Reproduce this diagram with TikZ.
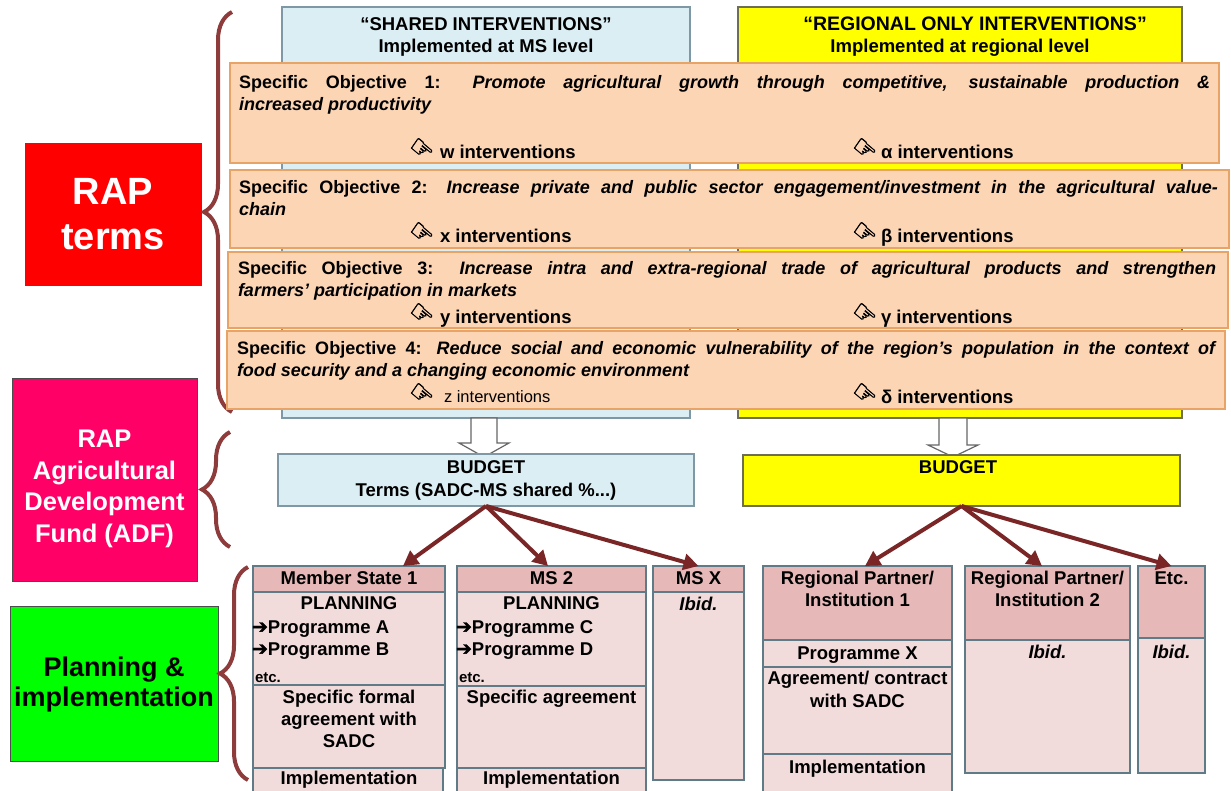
\documentclass[tikz,border=0pt]{standalone}
\usepackage{fontspec}
\setmainfont{Liberation Sans}
\newfontfamily\dejavu[FakeBold=2]{DejaVu Sans}
\usetikzlibrary{arrows.meta,decorations.pathreplacing,fit,calc}
\definecolor{lightblue}{HTML}{DBEEF4}
\definecolor{bluebord}{HTML}{7F98A6}
\definecolor{yel}{HTML}{FFFF00}
\definecolor{yelbord}{HTML}{6E6E55}
\definecolor{peach}{HTML}{FCD5B5}
\definecolor{peachbord}{HTML}{E8A467}
\definecolor{pinkhdr}{HTML}{E6B9B8}
\definecolor{pinkbody}{HTML}{F2DCDB}
\definecolor{pinkbord}{HTML}{5E7B87}
\definecolor{redbox}{HTML}{FF0000}
\definecolor{adfbox}{HTML}{FF0066}
\definecolor{greenbox}{HTML}{00FF00}
\definecolor{bracec}{HTML}{8E3B3B}
\definecolor{arrc}{HTML}{7A2626}
\newcommand\fsz[2]{\fontsize{#1}{#2}\selectfont}
\newcommand\handicon{\rotatebox[origin=c]{-40}{\dejavu\fsz{27}{27}☞}}
\newcommand\rarr{{\dejavu\fsz{19}{19}➔}}
\begin{document}
\begin{tikzpicture}[x=1pt,y=-1pt,
  every node/.style={inner sep=0pt, outer sep=0pt},
  colblue/.style={draw=bluebord, fill=lightblue, line width=1.2pt},
  colyel/.style={draw=yelbord, fill=yel, line width=1.2pt},
  sobox/.style={draw=peachbord, fill=peach, line width=1.2pt},
  sotext/.style={anchor=north west, align=justify, font=\bfseries\fsz{18}{22}},
  intext/.style={anchor=base west, font=\bfseries\fsz{18.5}{22}},
  iconnode/.style={font=\bfseries},
  hdrbox/.style={draw=pinkbord, fill=pinkhdr, line width=1.2pt},
  bodybox/.style={draw=pinkbord, fill=pinkbody, line width=1.2pt},
  tx/.style={anchor=base, font=\bfseries\fsz{18.5}{22}},
  txl/.style={anchor=base west, font=\bfseries\fsz{18.5}{22}},
  brc/.style={draw=bracec, line width=4pt, decorate, decoration={brace, amplitude=28pt}},
  barrow/.style={draw=gray!80!black, fill=white, line width=1.2pt},
  budarr/.style={draw=arrc, line width=4pt, -{Triangle[length=15pt,width=16pt]}}
]
\useasboundingbox (0,0) rectangle (1231,790);
\clip (0,0) rectangle (1231,790);

% left label boxes
\node[draw=black!70, fill=redbox, line width=1pt, fit={(25,143)(201,285)}] (rap) {};
\node[align=center, text=white, font=\bfseries\fsz{38}{45}] at (113,214) {RAP\\terms};
\node[draw=black!70, fill=adfbox, line width=1pt, fit={(12,378)(197,581)}] (adf) {};
\node[align=center, text=white, font=\bfseries\fsz{25.5}{31.7}] at (104.5,489) {RAP\\Agricultural\\Development\\Fund (ADF)};
\node[draw=black!70, fill=greenbox, line width=1pt, fit={(10,606)(218,761)}] (plan) {};
\node[align=center, font=\bfseries\fsz{27}{30}] at (114,685) {Planning \&\\implementation};

% braces
\draw[brc] (232,412) -- (232,12);
\draw[brc] (230,547) -- (230,432);
\draw[brc] (248,780) -- (248,567);

% columns
\node[colblue, fit={(282,7)(690,418)}] (shared) {};
\node[colyel, fit={(738,7)(1182,418)}] (regional) {};
\node[tx] at (486,30) {“SHARED INTERVENTIONS”};
\node[tx] at (486,52) {Implemented at MS level};
\node[tx, font=\bfseries\fsz{19.5}{22}] at (975,30) {“REGIONAL ONLY INTERVENTIONS”};
\node[tx] at (960,52) {Implemented at regional level};

% specific objectives
\node[sobox, fit={(230,63)(1219,163)}] (so1) {};
\node[sotext, text width=971pt] at (239,75) {Specific Objective 1: {\itshape Promote agricultural growth through competitive, sustainable production \&\linebreak increased productivity}};
\node[iconnode] at (421,150) {\handicon};
\node[intext] at (440,158) {w interventions};
\node[iconnode] at (864,150) {\handicon};
\node[intext] at (881,158) {α interventions};

\node[sobox, fit={(230,170)(1229,248)}] (so2) {};
\node[sotext, text width=979pt] at (239,180) {Specific Objective 2: {\itshape Increase private and public sector engagement/investment in the agricultural value-\linebreak chain}};
\node[iconnode] at (421,234) {\handicon};
\node[intext] at (440,242) {x interventions};
\node[iconnode] at (864,234) {\handicon};
\node[intext] at (881,242) {β interventions};

\node[sobox, fit={(228,252)(1228,328)}] (so3) {};
\node[sotext, text width=978pt] at (238,261) {Specific Objective 3: {\itshape Increase intra and extra-regional trade of agricultural products and strengthen\linebreak farmers’ participation in markets}};
\node[iconnode] at (421,315) {\handicon};
\node[intext] at (440,323) {y interventions};
\node[iconnode] at (864,315) {\handicon};
\node[intext] at (881,323) {γ interventions};

\node[sobox, fit={(227,331)(1225,409)}] (so4) {};
\node[sotext, text width=978pt] at (237,341) {Specific Objective 4: {\itshape Reduce social and economic vulnerability of the region’s population in the context of\linebreak food security and a changing economic environment}};
\node[iconnode] at (421,395) {\handicon};
\node[anchor=base west, font=\fsz{16.5}{20}] at (444,402) {z interventions};
\node[iconnode] at (864,395) {\handicon};
\node[intext] at (881,403) {δ interventions};

% block arrows
\draw[barrow] (471,418) -- (471,443) -- (459,443) -- (484,457) -- (509,443) -- (497,443) -- (497,418) -- cycle;
\draw[barrow] (939,418) -- (939,445) -- (928,445) -- (953,457) -- (978,445) -- (967,445) -- (967,418) -- cycle;

% budgets
\node[colblue, fit={(278,454)(694,506)}] (budl) {};
\node[tx] at (486,473) {BUDGET};
\node[tx] at (486,496) {Terms (SADC-MS shared \%...)};
\node[colyel, fit={(743,455)(1180,506)}] (budr) {};
\node[tx] at (958,473) {BUDGET};

% member states
\node[bodybox, fit={(253,592)(445,685)}] (ms1p) {};
\node[bodybox, fit={(253,685)(445,768)}] (ms1a) {};
\node[bodybox, fit={(253,768)(443,800)}] (ms1i) {};
\node[hdrbox, fit={(253,566)(445,592)}] (ms1h) {};
\node[tx] at (349,584) {Member State 1};
\node[tx] at (349,609) {PLANNING};
\node[txl] at (252,633) {\rarr Programme A};
\node[txl] at (252,655) {\rarr Programme B};
\node[anchor=base west, font=\bfseries\fsz{15}{16}] at (255,682) {etc.};
\node[tx] at (349,703) {Specific formal};
\node[tx] at (349,725) {agreement with};
\node[tx] at (349,747) {SADC};
\node[tx] at (349,784) {Implementation};

\node[bodybox, fit={(457,592)(646,686)}] (ms2p) {};
\node[bodybox, fit={(457,686)(646,768)}] (ms2a) {};
\node[bodybox, fit={(457,768)(646,800)}] (ms2i) {};
\node[hdrbox, fit={(457,566)(646,592)}] (ms2h) {};
\node[tx] at (551.5,584) {MS 2};
\node[tx] at (551.5,609) {PLANNING};
\node[txl] at (456,633) {\rarr Programme C};
\node[txl] at (456,655) {\rarr Programme D};
\node[anchor=base west, font=\bfseries\fsz{15}{16}] at (459,682) {etc.};
\node[tx] at (551.5,703) {Specific agreement};
\node[tx] at (551.5,784) {Implementation};

\node[bodybox, fit={(653,592)(744,780)}] (msxb) {};
\node[hdrbox, fit={(653,566)(744,592)}] (msxh) {};
\node[tx] at (698.5,584) {MS X};
\node[tx, font=\bfseries\itshape\fsz{18.5}{22}] at (698.5,610) {Ibid.};

% regional partners
\node[bodybox, fit={(763,640)(952,667)}] (rp1p) {};
\node[bodybox, fit={(763,667)(952,754)}] (rp1a) {};
\node[bodybox, fit={(763,754)(952,800)}] (rp1i) {};
\node[hdrbox, fit={(763,566)(952,640)}] (rp1h) {};
\node[tx] at (857.5,584) {Regional Partner/};
\node[tx] at (857.5,606) {Institution 1};
\node[tx] at (857.5,659) {Programme X};
\node[tx] at (857.5,684) {Agreement/ contract};
\node[tx] at (857.5,707) {with SADC};
\node[tx] at (857.5,773) {Implementation};

\node[bodybox, fit={(965,640)(1130,773)}] (rp2b) {};
\node[hdrbox, fit={(965,566)(1130,640)}] (rp2h) {};
\node[tx] at (1047.5,584) {Regional Partner/};
\node[tx] at (1047.5,606) {Institution 2};
\node[tx, font=\bfseries\itshape\fsz{18.5}{22}] at (1047.5,658) {Ibid.};

\node[bodybox, fit={(1138,638)(1205,773)}] (etcb) {};
\node[hdrbox, fit={(1138,566)(1205,638)}] (etch) {};
\node[tx] at (1171.5,584) {Etc.};
\node[tx, font=\bfseries\itshape\fsz{18.5}{22}] at (1171.5,658) {Ibid.};

% budget arrows
\draw[budarr] (budl.south) -- ([xshift=150pt]ms1h.north west);
\draw[budarr] (budl.south) -- ([xshift=91pt]ms2h.north west);
\draw[budarr] (budl.south) -- (msxh.north);
\draw[budarr] (budr.south) -- ([xshift=102pt]rp1h.north west);
\draw[budarr] (budr.south) -- ([xshift=77pt]rp2h.north west);
\draw[budarr] (budr.south) -- (etch.north);
\end{tikzpicture}
\end{document}
